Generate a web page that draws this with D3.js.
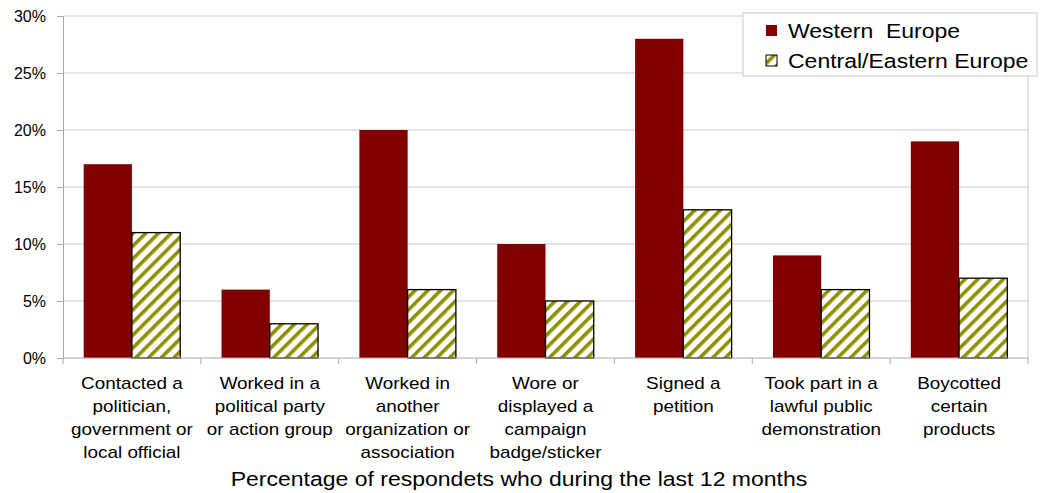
<!DOCTYPE html>
<html>
<head>
<meta charset="utf-8">
<script src="https://cdn.jsdelivr.net/npm/d3@7"></script>
<style>
  body { margin: 0; background: #fff; }
  text { font-family: "Liberation Sans", Arial, sans-serif; fill: #000; }
</style>
</head>
<body>
<div id="chart"></div>
<script>
const width = 1040;
const height = 493;

// Chart data
const categories = [
    ["Contacted a", "politician,", "government or", "local official"],
    ["Worked in a", "political party", "or action group"],
    ["Worked in", "another", "organization or", "association"],
    ["Wore or", "displayed a", "campaign", "badge/sticker"],
    ["Signed a", "petition"],
    ["Took part in a", "lawful public", "demonstration"],
    ["Boycotted", "certain", "products"]
];
const westernEurope = [17, 6, 20, 10, 28, 9, 19];
const easternEurope = [11, 3, 6, 5, 13, 6, 7];
const seriesNames = ["Western  Europe", "Central/Eastern Europe"];
const yTicks = [0, 5, 10, 15, 20, 25, 30];
const xTitle = "Percentage of respondets who during the last 12 months";

const margin = { top: 16, right: 12, bottom: 135, left: 63 };
const stretch = 1.18; // the original text is a bit wide

const svg = d3.select("#chart").append("svg")
    .attr("width", width)
    .attr("height", height)
    .attr("viewBox", [0, 0, width, height]);

// hatch pattern for the second series
const defs = svg.append("defs");
const pat = defs.append("pattern")
    .attr("id", "hatch")
    .attr("patternUnits", "userSpaceOnUse")
    .attr("width", 9)
    .attr("height", 9)
    .attr("patternTransform", "rotate(45)");
pat.append("rect").attr("width", 9).attr("height", 9).attr("fill", "#fff");
pat.append("rect").attr("x", 0).attr("width", 3.6).attr("height", 9).attr("fill", "#8f8f00");

const x = d3.scaleBand()
    .domain(d3.range(categories.length))
    .range([margin.left, width - margin.right])
    .paddingInner(0.3)
    .paddingOuter(0.15);

// category band without padding (for ticks)
const xc = d3.scaleBand()
    .domain(d3.range(categories.length))
    .range([margin.left, width - margin.right]);

const xs = d3.scaleBand()
    .domain([0, 1])
    .range([0, x.bandwidth()]);

const y = d3.scaleLinear()
    .domain([0, 30])
    .range([height - margin.bottom, margin.top]);

// gridlines
svg.append("g")
    .selectAll("line")
    .data(yTicks.slice(1))
    .join("line")
    .attr("x1", margin.left)
    .attr("x2", width - margin.right)
    .attr("y1", d => y(d))
    .attr("y2", d => y(d))
    .attr("stroke", "#c8c8c8")
    .attr("stroke-width", 1);

// right border of plot area
svg.append("line")
    .attr("x1", width - margin.right).attr("x2", width - margin.right)
    .attr("y1", margin.top).attr("y2", y(0))
    .attr("stroke", "#c8c8c8");

// y axis
const yAxis = svg.append("g")
    .attr("transform", `translate(${margin.left},0)`)
    .call(d3.axisLeft(y).tickValues(yTicks).tickFormat(d => d + "%").tickSize(6).tickPadding(11));
yAxis.select(".domain").attr("stroke", "#a8a8a8");
yAxis.selectAll(".tick line").attr("stroke", "#a8a8a8");
yAxis.selectAll("text")
    .style("font-size", "16px")
    .style("font-family", "'Liberation Sans', Arial, sans-serif")
    .attr("fill", "#000");

// bars
const groups = svg.append("g")
    .selectAll("g")
    .data(categories.map((c, i) => i))
    .join("g")
    .attr("transform", i => `translate(${x(i)},0)`);

groups.append("rect")
    .attr("x", xs(0))
    .attr("y", i => y(westernEurope[i]))
    .attr("width", xs.bandwidth())
    .attr("height", i => y(0) - y(westernEurope[i]))
    .attr("fill", "#800000");

groups.append("rect")
    .attr("x", xs(1))
    .attr("y", i => y(easternEurope[i]))
    .attr("width", xs.bandwidth())
    .attr("height", i => y(0) - y(easternEurope[i]))
    .attr("fill", "url(#hatch)")
    .attr("stroke", "#000")
    .attr("stroke-width", 1.3);

// x axis baseline and category ticks
svg.append("line")
    .attr("x1", margin.left).attr("x2", width - margin.right)
    .attr("y1", y(0)).attr("y2", y(0))
    .attr("stroke", "#a8a8a8");
svg.append("g")
    .selectAll("line")
    .data(d3.range(categories.length + 1))
    .join("line")
    .attr("x1", i => i < categories.length ? xc(i) : width - margin.right)
    .attr("x2", i => i < categories.length ? xc(i) : width - margin.right)
    .attr("y1", y(0))
    .attr("y2", y(0) + 6)
    .attr("stroke", "#a8a8a8");

// category labels
const labels = svg.append("g")
    .selectAll("text")
    .data(categories)
    .join("text")
    .attr("text-anchor", "middle")
    .style("font-size", "16px")
    .attr("transform", (d, i) => `translate(${xc(i) + xc.bandwidth() / 2},389) scale(${stretch},1)`);
labels.selectAll("tspan")
    .data(d => d)
    .join("tspan")
    .attr("x", 0)
    .attr("y", (d, j) => j * 23)
    .text(d => d);

// axis title (sits a little left of the plot centre in the original)
svg.append("text")
    .attr("transform", `translate(519,486) scale(${stretch},1)`)
    .attr("text-anchor", "middle")
    .style("font-size", "19.5px")
    .text(xTitle);

// legend
const legend = svg.append("g").attr("transform", "translate(743,13)");
legend.append("rect")
    .attr("width", 294)
    .attr("height", 63)
    .attr("fill", "#fff")
    .attr("stroke", "#c8c8c8");
const items = legend.selectAll("g")
    .data(seriesNames)
    .join("g")
    .attr("transform", (d, i) => `translate(23,${18 + i * 30})`);
items.append("rect")
    .attr("x", 0).attr("y", -6)
    .attr("width", 11).attr("height", 11)
    .attr("fill", (d, i) => i === 0 ? "#800000" : "url(#hatch)")
    .attr("stroke", (d, i) => i === 0 ? "none" : "#000")
    .attr("stroke-width", 1);
items.append("text")
    .attr("transform", `translate(22,7) scale(${stretch},1)`)
    .style("font-size", "19.5px")
    .attr("xml:space", "preserve")
    .text(d => d);
</script>
</body>
</html>
